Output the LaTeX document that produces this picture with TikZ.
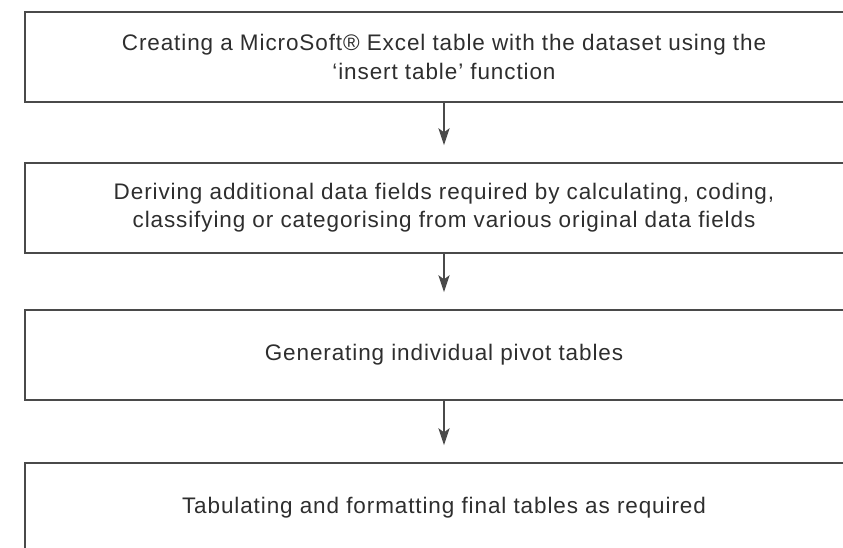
\documentclass[tikz,border=0pt]{standalone}
\usepackage{fontspec}
\setmainfont{Liberation Sans}[LetterSpace=4]
\usepackage{tikz}
\usetikzlibrary{positioning,arrows.meta,calc}
\definecolor{boxline}{HTML}{4A4A4A}
\definecolor{boxtext}{HTML}{2E2E2E}
\tikzset{
    stage/.style = {
        draw=boxline,
        shape=rectangle,
        minimum height=2.25cm,
        minimum width=20.95cm,
        line width=1.1pt,
        align=center,
        text=boxtext,
        font=\fontsize{16pt}{20pt}\selectfont
    },
    flow/.style = {
        draw=boxline,
        line width=0.8pt,
        shorten >=0.43cm
    },
    >={Stealth[length=12pt,width=8pt,inset=3pt]},
}
\begin{document}
\begin{tikzpicture}

            \clip (0,0) rectangle (21.075,-13.675);

            \node[stage] (create) at (11.1,-1.425) {Creating a MicroSoft\textregistered{} Excel table with the dataset using the\\`insert table' function};
            \node[stage] (derive) at (11.1,-5.2) {Deriving additional data fields required by calculating, coding,\\classifying or categorising from various original data fields};
            \node[stage] (pivot) at (11.1,-8.875) {Generating individual pivot tables};
            \node[stage] (tabulate) at (11.1,-12.7) {Tabulating and formatting final tables as required};

            \path[flow, ->] (create.south) -- (derive.north);
            \path[flow, ->] (derive.south) -- (pivot.north);
            \path[flow, ->] (pivot.south) -- (tabulate.north);

        \end{tikzpicture}
\end{document}
